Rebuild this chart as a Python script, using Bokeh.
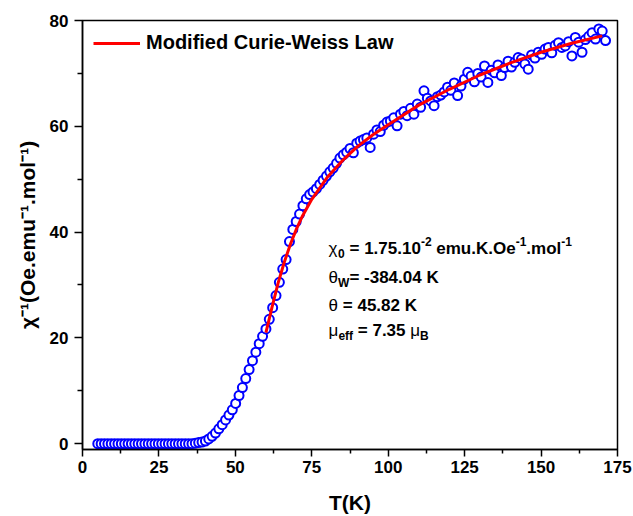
from bokeh.plotting import figure
from bokeh.models import FixedTicker, Label, Range1d
from bokeh.embed import file_html
from bokeh.resources import INLINE

# ---------------- data ----------------
T = [5.0, 6.1, 7.2, 8.3, 9.4, 10.5, 11.6, 12.7, 13.8, 14.9,
     16.0, 17.1, 18.2, 19.3, 20.4, 21.5, 22.6, 23.7, 24.8, 25.9,
     27.0, 28.1, 29.2, 30.3, 31.4, 32.5, 33.6, 34.7, 35.8, 36.9,
     38.0, 39.1, 40.2, 41.3, 42.4, 43.5, 44.6, 45.7, 46.8, 47.9,
     49.0, 50.1, 51.2, 52.3, 53.4, 54.5, 55.6, 56.7, 57.8, 58.9,
     60.0, 61.1, 62.2, 63.3, 64.4, 65.5, 66.6, 67.7, 68.8, 69.9,
     71.0, 72.1, 73.2, 74.3, 75.4, 76.5, 77.6, 78.7, 79.8, 80.9,
     82.0, 83.1, 84.2, 85.3, 86.4, 87.5, 88.6, 89.7, 90.8, 91.9,
     93.0, 94.1, 95.2, 96.3, 97.4, 98.5, 99.6, 100.7, 101.8, 102.9,
     104.0, 105.1, 106.2, 107.3, 108.4, 109.5, 110.6, 111.7, 112.8, 113.9,
     115.0, 116.1, 117.2, 118.3, 119.4, 120.5, 121.6, 122.7, 123.8, 124.9,
     126.0, 127.1, 128.2, 129.3, 130.4, 131.5, 132.6, 133.7, 134.8, 135.9,
     137.0, 138.1, 139.2, 140.3, 141.4, 142.5, 143.6, 144.7, 145.8, 146.9,
     148.0, 149.1, 150.2, 151.3, 152.4, 153.5, 154.6, 155.7, 156.8, 157.9,
     159.0, 160.1, 161.2, 162.3, 163.4, 164.5, 165.6, 166.7, 167.8, 168.9,
     170.0, 171.1]

chi_inv = [0.0, 0.0, 0.0, 0.0, 0.0, 0.0, 0.0, 0.0, 0.0, 0.0,
           0.0, 0.0, 0.0, 0.0, 0.0, 0.0, 0.0, 0.0, 0.0, 0.0,
           0.0, 0.0, 0.0, 0.0, 0.0, 0.0, 0.0, 0.0, 0.0, 0.1,
           0.2, 0.3, 0.5, 0.9, 1.4, 2.0, 2.8, 3.6, 4.5, 5.4,
           6.4, 7.6, 9.1, 10.6, 12.3, 14.0, 15.7, 17.3, 18.9, 20.3,
           21.7, 23.5, 25.7, 28.0, 30.5, 33.0, 34.8, 38.2, 40.5, 42.0,
           43.4, 45.0, 46.3, 47.1, 47.6, 48.2, 49.0, 49.8, 50.6, 51.4,
           52.1, 53.0, 54.0, 54.6, 55.1, 55.8, 55.0, 56.8, 57.2, 57.5,
           57.8, 56.0, 58.5, 59.3, 59.0, 60.2, 60.8, 61.0, 61.6, 60.1,
           62.3, 62.8, 62.0, 63.4, 62.3, 64.2, 63.6, 66.7, 65.3, 64.8,
           63.9, 65.6, 65.9, 66.5, 67.4, 66.8, 68.2, 65.8, 67.6, 68.9,
           70.2, 69.5, 68.4, 70.0, 69.3, 71.4, 68.3, 70.6, 70.1, 71.6,
           69.6, 71.1, 72.3, 71.2, 72.1, 73.0, 72.7, 71.8, 70.8, 73.5,
           72.9, 74.0, 73.6, 74.6, 74.9, 73.9, 75.3, 75.8, 74.9, 75.2,
           76.0, 73.3, 76.8, 75.9, 74.0, 76.4, 77.0, 77.7, 76.5, 78.4,
           78.0, 76.2]

T_fit = [60, 62, 64, 66, 68, 70, 72, 75, 80, 85, 90, 95, 100,
         110, 120, 130, 140, 150, 160, 170]
chi_fit = [21.0, 25.8, 30.4, 34.3, 37.7, 40.6, 43.1, 46.2, 50.3, 53.5, 56.2, 58.4, 60.3,
           64.0, 67.0, 69.7, 72.0, 74.0, 75.7, 77.1]

x_ticks = [0, 25, 50, 75, 100, 125, 150, 175]
x_minor = [12.5, 37.5, 62.5, 87.5, 112.5, 137.5, 162.5]
y_ticks = [0, 20, 40, 60, 80]
y_minor = [10, 30, 50, 70]

legend_text = "Modified Curie-Weiss Law"
x_title = "T(K)"
y_title = "χ⁻¹(Oe.emu⁻¹.mol⁻¹)"

FONT = "Liberation Sans"

p = figure(width=633, height=516, output_backend="svg", toolbar_location=None,
           x_range=Range1d(0, 175), y_range=Range1d(-1.1, 80),
           min_border_left=82, min_border_right=16, min_border_top=20,
           min_border_bottom=67, background_fill_color="white",
           border_fill_color="white")
p.xgrid.visible = False
p.ygrid.visible = False
p.outline_line_color = "black"
p.outline_line_width = 1.5

p.xaxis.ticker = FixedTicker(ticks=x_ticks, minor_ticks=x_minor)
p.yaxis.ticker = FixedTicker(ticks=y_ticks, minor_ticks=y_minor)
for ax in (p.xaxis[0], p.yaxis[0]):
    ax.axis_line_width = 1.5
    ax.axis_line_color = "black"
    ax.major_tick_line_width = 1.5
    ax.minor_tick_line_width = 1.5
    ax.major_tick_line_color = "black"
    ax.minor_tick_line_color = "black"
    ax.major_tick_in = 0
    ax.minor_tick_in = 0
    ax.major_label_text_font = FONT
    ax.major_label_text_font_style = "bold"
    ax.major_label_text_font_size = "17px"
    ax.major_label_text_color = "black"
    ax.axis_label_text_font = FONT
    ax.axis_label_text_font_style = "bold"
    ax.axis_label_text_font_size = "21px"
    ax.axis_label_text_color = "black"

p.xaxis.major_tick_out = 7
p.xaxis.minor_tick_out = 4
p.xaxis.major_label_standoff = 4
p.xaxis.axis_label = x_title
p.xaxis.axis_label_standoff = 15

p.yaxis.major_tick_out = 8
p.yaxis.minor_tick_out = 5
p.yaxis.major_label_standoff = 6
p.yaxis.axis_label = y_title
p.yaxis.axis_label_standoff = 8

p.scatter(T, chi_inv, marker="circle", size=9, line_color="#0000FF",
          line_width=2, fill_color="white")
p.line(T_fit, chi_fit, line_color="#FF0000", line_width=3,
       legend_label=legend_text)

lg = p.legend[0]
lg.location = "top_left"
lg.margin = 0
lg.padding = 11
lg.border_line_alpha = 0
lg.background_fill_alpha = 0
lg.glyph_width = 47
lg.glyph_height = 20
lg.label_standoff = 6
lg.label_text_font = FONT
lg.label_text_font_style = "bold"
lg.label_text_font_size = "20px"
lg.label_text_color = "black"

# --------------- fit-parameter text block ---------------
WB = {' ': .278, '-': .333, '.': .278, '=': .584, 'K': .722, 'B': .722,
      'O': .778, 'W': .944, 'e': .556, 'f': .333, 'm': .889, 'o': .611,
      'l': .278, 'u': .611}
WG = {'χ': .56, 'θ': .556, 'μ': .576}


def width(s, size):
    return sum(WG.get(c, WB.get(c, .556)) for c in s) * size


ann_T = 80.5
ann_chi = 36.85
BIG = 17
SMALL = 12
lines = [
    (0, [("χ", BIG, 0, "normal"), ("0", SMALL, -5, "bold"),
         (" = 1.75.10", BIG, 0, "bold"), ("-2", SMALL, 7, "bold"),
         (" emu.K.Oe", BIG, 0, "bold"), ("-1", SMALL, 7, "bold"),
         (".mol", BIG, 0, "bold"), ("-1", SMALL, 7, "bold")]),
    (-29, [("θ", BIG, 0, "normal"), ("W", SMALL, -5, "bold"),
           ("= -384.04 K", BIG, 0, "bold")]),
    (-57, [("θ", BIG, 0, "normal"), (" = 45.82 K", BIG, 0, "bold")]),
    (-82, [("μ", BIG, 0, "normal"), ("eff", SMALL, -5, "bold"),
           (" = 7.35 ", BIG, 0, "bold"), ("μ", BIG, 0, "normal"),
           ("B", SMALL, -5, "bold")]),
]
for yoff, pieces in lines:
    xo = 0.0
    for text, size, dy, style in pieces:
        lead = len(text) - len(text.lstrip(" "))
        trail = len(text) - len(text.rstrip(" "))
        core = text.strip(" ")
        xo += lead * WB[' '] * size
        p.add_layout(Label(x=ann_T, y=ann_chi, x_offset=xo, y_offset=yoff + dy,
                           text=core, text_font=FONT,
                           text_font_size=f"{size}px", text_font_style=style,
                           text_color="black", text_baseline="alphabetic",
                           text_align="left"))
        xo += width(core, size) + trail * WB[' '] * size

open("out.html", "w").write(file_html(p, INLINE))
